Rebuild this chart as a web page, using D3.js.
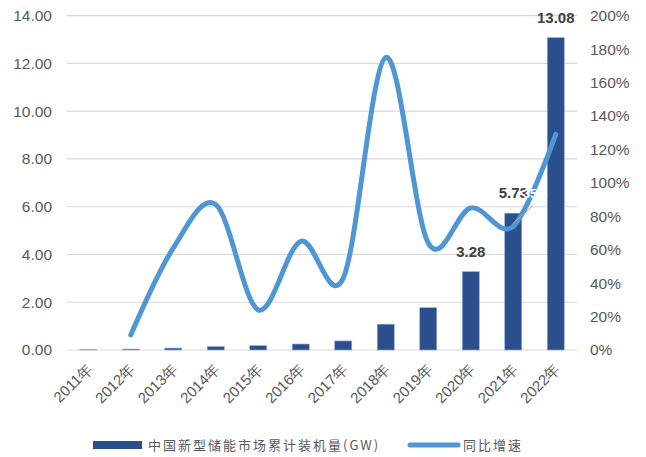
<!DOCTYPE html>
<html><head><meta charset="utf-8">
<script src="https://cdn.jsdelivr.net/npm/d3@7"></script>
<style>body{margin:0;background:#fff;font-family:"Liberation Sans",Arial,sans-serif;}</style>
</head><body><svg id="c" width="646" height="457"></svg>
<script>
const years = ["2011年","2012年","2013年","2014年","2015年","2016年","2017年","2018年","2019年","2020年","2021年","2022年"];
const capacity = [0.02,0.04,0.08,0.14,0.18,0.25,0.38,1.08,1.77,3.28,5.73,13.08];
const growthYears = ["2012年","2013年","2014年","2015年","2016年","2017年","2018年","2019年","2020年","2021年","2022年"];
const growth = [0.09,0.61,0.87,0.24,0.65,0.43,1.75,0.64,0.85,0.74,1.29];
const leftTicks = [0,2,4,6,8,10,12,14];
const rightTicks = [0,0.2,0.4,0.6,0.8,1.0,1.2,1.4,1.6,1.8,2.0];
const labeled = {"2020年":"3.28","2021年":"5.73","2022年":"13.08"};
const barName = "中国新型储能市场累计装机量(GW)";
const lineName = "同比增速";

const svg = d3.select("#c");
const L = 67, R = 577, T = 15.7, B = 350;
const x = d3.scaleBand().domain(years).range([L, R]).paddingInner(0.6).paddingOuter(0.3);
const y = d3.scaleLinear().domain([0,14]).range([B, T]);
const y2 = d3.scaleLinear().domain([0,2]).range([B, T]);
const grey = "#595959";

// gridlines
svg.append("g").selectAll("line").data(leftTicks).join("line")
  .attr("x1", L).attr("x2", R).attr("y1", d=>y(d)).attr("y2", d=>y(d))
  .attr("stroke", "#d9d9d9").attr("stroke-width", 1.2);

// left axis
const la = svg.append("g").attr("transform", `translate(${L},0)`)
  .call(d3.axisLeft(y).tickValues(leftTicks).tickFormat(d3.format(".2f")).tickSize(0).tickPadding(15));
la.select(".domain").remove();
la.selectAll("text").attr("font-size", 15.5).attr("fill", grey).attr("font-family", "Liberation Sans, Arial");

// right axis
const ra = svg.append("g").attr("transform", `translate(${R},0)`)
  .call(d3.axisRight(y2).tickValues(rightTicks).tickFormat(d3.format(".0%")).tickSize(0).tickPadding(13));
ra.select(".domain").remove();
ra.selectAll("text").attr("font-size", 15.5).attr("fill", grey).attr("font-family", "Liberation Sans, Arial");

// bars
svg.append("g").selectAll("rect").data(years).join("rect")
  .attr("x", d=>x(d)).attr("width", x.bandwidth())
  .attr("y", (d,i)=>y(capacity[i])).attr("height", (d,i)=>B - y(capacity[i]))
  .attr("fill", "#2B4F8C").attr("stroke", "#8FAADC").attr("stroke-width", 0.6);

// x labels
svg.append("g").selectAll("text").data(years).join("text")
  .attr("transform", d=>`translate(${x(d)+x.bandwidth()/2+5},${B+20}) rotate(-45)`)
  .attr("text-anchor", "end").attr("font-size", 15).attr("fill", grey)
  .text(d=>d);

// line
const cx = d => x(d) + x.bandwidth()/2;
const line = d3.line().x(d=>cx(d[0])).y(d=>y2(d[1])).curve(d3.curveCatmullRom.alpha(0));
svg.append("path").datum(growthYears.map((d,i)=>[d,growth[i]]))
  .attr("d", line).attr("fill", "none").attr("stroke", "#4F96D4")
  .attr("stroke-width", 5).attr("stroke-linecap", "round").attr("stroke-linejoin", "round");

// leader line
const i21 = years.indexOf("2021年");
const g21 = growth[growthYears.indexOf("2021年")];
svg.append("line").attr("x1", cx("2021年")).attr("y1", y2(g21)-3)
  .attr("x2", cx("2021年")+20).attr("y2", y2(g21)-21)
  .attr("stroke", "#a6a6a6").attr("stroke-width", 1);

// bar labels
svg.append("g").selectAll("text").data(Object.keys(labeled)).join("text")
  .attr("x", d=>cx(d)).attr("y", d=>y(capacity[years.indexOf(d)])-15)
  .attr("text-anchor", "middle").attr("font-size", 15).attr("font-weight", "bold").attr("fill", "#404040")
  .text(d=>labeled[d]);
// partially hidden white growth label drawn over 5.73
svg.append("text").attr("x", cx("2021年")+10).attr("y", y(capacity[i21])-15)
  .attr("font-size", 12).attr("font-weight", "bold").attr("fill", "#fff").text("35%");

// legend
const lg = svg.append("g");
lg.append("rect").attr("x", 93).attr("y", 441).attr("width", 49).attr("height", 8).attr("fill", "#2B4F8C");
lg.append("text").attr("x", 148).attr("y", 450).attr("font-size", 13).attr("letter-spacing", 2)
  .attr("fill", grey).attr("font-family", "Noto Sans CJK SC, Liberation Sans").text(barName);
lg.append("line").attr("x1", 410).attr("x2", 458).attr("y1", 445).attr("y2", 445)
  .attr("stroke", "#4F96D4").attr("stroke-width", 5).attr("stroke-linecap", "round");
lg.append("text").attr("x", 463).attr("y", 450).attr("font-size", 13).attr("letter-spacing", 2)
  .attr("fill", grey).attr("font-family", "Noto Sans CJK SC, Liberation Sans").text(lineName);
</script></body></html>
